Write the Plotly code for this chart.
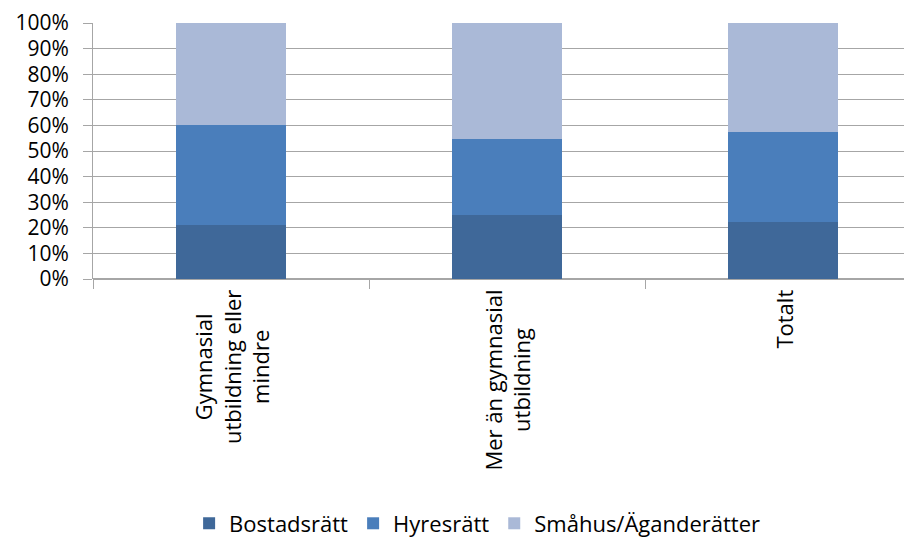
import plotly.graph_objects as go

# Share of housing type per education level (%)
categories = [
    "Gymnasial<br>utbildning eller<br>mindre",
    "Mer än gymnasial<br>utbildning",
    "Totalt",
]
series_names = ["Bostadsrätt", "Hyresrätt", "Småhus/Äganderätter"]
bostadsratt = [21.0, 25.0, 22.4]
hyresratt = [39.0, 29.6, 35.2]
smahus = [40.0, 45.4, 42.4]

COLORS = ["#3F6899", "#4A7EBB", "#AAB9D7"]
FONT = "Open Sans, Liberation Sans, Arial, sans-serif"

fig = go.Figure()
for name, vals, color in zip(series_names, [bostadsratt, hyresratt, smahus], COLORS):
    fig.add_trace(go.Bar(
        x=categories,
        y=vals,
        name=name,
        marker=dict(color=color, line=dict(width=0)),
    ))

# category labels as rotated annotations so the lines are centred like Excel
for cat in categories:
    fig.add_annotation(
        x=cat, xref="x",
        y=0, yref="paper",
        yanchor="top", xanchor="center",
        yshift=-9,
        text=cat,
        textangle=-90,
        align="center",
        showarrow=False,
        font=dict(family=FONT, size=22, color="#000000"),
    )

# page body has an 8px default margin, so the figure is sized to fit inside it
fig.update_layout(
    barmode="stack",
    bargap=0.6,
    width=904,
    height=533,
    margin=dict(l=85, r=0, t=15, b=262, autoexpand=False),
    plot_bgcolor="white",
    paper_bgcolor="white",
    font=dict(family=FONT, size=21, color="#000000"),
    showlegend=True,
    legend=dict(
        orientation="h",
        x=0.469,
        xanchor="center",
        y=-0.955,
        yanchor="middle",
        font=dict(size=22),
        traceorder="normal",
    ),
)

fig.update_xaxes(
    range=[-0.5, 2.467],
    showticklabels=False,
    showgrid=False,
    showline=False,
    ticks="outside",
    tickson="boundaries",
    ticklen=9,
    tickcolor="#A6A6A6",
    automargin=False,
)
fig.update_yaxes(
    range=[0, 100],
    tickvals=list(range(0, 101, 10)),
    ticktext=[f"{v}%" for v in range(0, 101, 10)],
    showgrid=True,
    gridcolor="#A6A6A6",
    gridwidth=1,
    showline=True,
    linecolor="#A6A6A6",
    ticks="outside",
    ticklen=9,
    tickcolor="#A6A6A6",
    ticklabelstandoff=10,
    zeroline=True,
    zerolinecolor="#A6A6A6",
    automargin=False,
    tickfont=dict(size=21),
)

fig.write_html("out.html")
